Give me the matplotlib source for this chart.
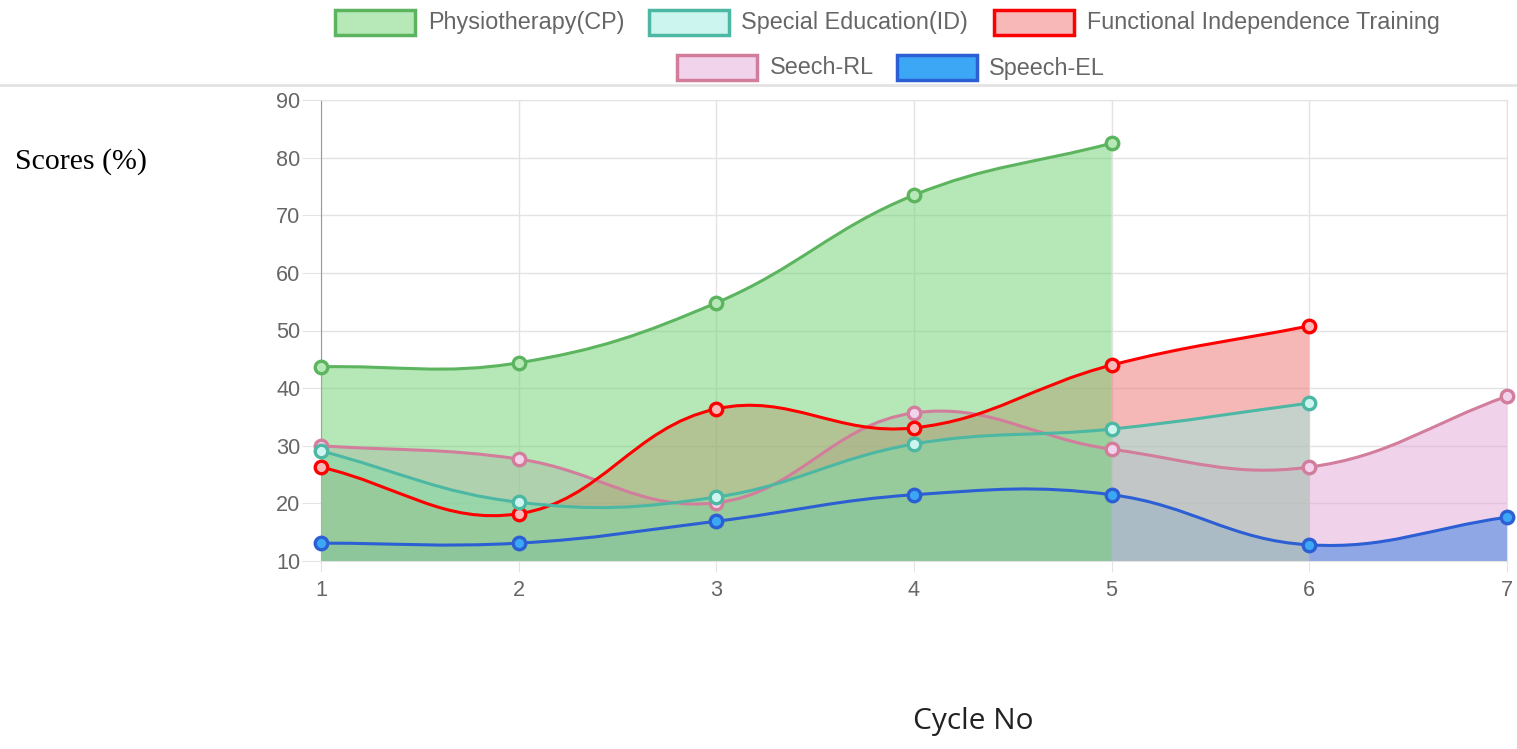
import numpy as np
import matplotlib

matplotlib.use("Agg")
import matplotlib.pyplot as plt
from matplotlib.path import Path
from matplotlib.patches import PathPatch, Rectangle
from matplotlib.lines import Line2D
from matplotlib import font_manager

# ---- data ----------------------------------------------------------------- #
cycles = [1, 2, 3, 4, 5, 6, 7]
physio = [43.7, 44.4, 54.8, 73.5, 82.5]
special_ed = [29.1, 20.2, 21.1, 30.3, 32.9, 37.4]
fit = [26.3, 18.2, 36.4, 33.1, 44.0, 50.8]
speech_rl = [30.0, 27.7, 20.1, 35.7, 29.4, 26.3, 38.6]
speech_el = [13.1, 13.1, 16.9, 21.5, 21.5, 12.8, 17.6]

labels = ["Physiotherapy(CP)", "Special Education(ID)",
          "Functional Independence Training", "Seech-RL", "Speech-EL"]
series = [physio, special_ed, fit, speech_rl, speech_el]
line_colors = ["#5cb55e", "#4cb8a4", "#ff0000", "#d27d9c", "#2b5fd3"]
fill_colors = ["#6fd171", "#99ebdf", "#ef7171", "#e5a7d9", "#3ca8f5"]
fill_alpha = [0.5, 0.5, 0.5, 0.5, 1.0]
legend_face = ["#b7e8b8", "#ccf5ef", "#f8b8b8", "#f2d3ec", "#3ca8f5"]

W, H = 1517, 749
YMIN, YMAX = 10, 90
TENSION = 0.4
PX_X = 197.7   # px per x unit
PX_Y = 5.76    # px per y unit

installed = {f.name for f in font_manager.fontManager.ttflist}
NARROW = "Liberation Sans Narrow" if "Liberation Sans Narrow" in installed else "Liberation Sans"
SCALE = 1.0 if NARROW == "Liberation Sans Narrow" else 0.82


def spline_path(xs, ys):
    """Chart.js style bezier (tension 0.4), computed in pixel space."""
    px = np.array(xs, float) * PX_X
    py = np.array(ys, float) * PX_Y
    n = len(px)
    cps = []
    for i in range(n):
        p0 = (px[max(i - 1, 0)], py[max(i - 1, 0)])
        p1 = (px[i], py[i])
        p2 = (px[min(i + 1, n - 1)], py[min(i + 1, n - 1)])
        d01 = np.hypot(p1[0] - p0[0], p1[1] - p0[1])
        d12 = np.hypot(p2[0] - p1[0], p2[1] - p1[1])
        tot = d01 + d12
        s01 = d01 / tot if tot else 0
        s12 = d12 / tot if tot else 0
        fa, fb = TENSION * s01, TENSION * s12
        prev_cp = (p1[0] - fa * (p2[0] - p0[0]), p1[1] - fa * (p2[1] - p0[1]))
        next_cp = (p1[0] + fb * (p2[0] - p0[0]), p1[1] + fb * (p2[1] - p0[1]))
        cps.append((prev_cp, next_cp))
    verts = [(px[0], py[0])]
    codes = [Path.MOVETO]
    for i in range(n - 1):
        verts += [cps[i][1], cps[i + 1][0], (px[i + 1], py[i + 1])]
        codes += [Path.CURVE4] * 3
    verts = [(vx / PX_X, min(max(vy / PX_Y, YMIN), YMAX)) for vx, vy in verts]
    return verts, codes


fig = plt.figure(figsize=(W / 100, H / 100), dpi=100)
ax = fig.add_axes([321 / W, 1 - 561 / H, (1507 - 321) / W, (561 - 100) / H])
ax.set_xlim(1, 7)
ax.set_ylim(YMIN, YMAX)

# Chart.js draws the first dataset on top -> draw in reverse order
for k in reversed(range(len(series))):
    ys = series[k]
    xs = cycles[:len(ys)]
    verts, codes = spline_path(xs, ys)
    fverts = verts + [(xs[-1], YMIN), (xs[0], YMIN), verts[0]]
    fcodes = codes + [Path.LINETO, Path.LINETO, Path.CLOSEPOLY]
    ax.add_patch(PathPatch(Path(fverts, fcodes), facecolor=fill_colors[k],
                           alpha=fill_alpha[k], edgecolor="none", zorder=2 + (4 - k)))

for k in reversed(range(len(series))):
    ys = series[k]
    xs = cycles[:len(ys)]
    verts, codes = spline_path(xs, ys)
    z = 10 + 2 * (4 - k)
    ax.add_patch(PathPatch(Path(verts, codes), facecolor="none",
                           edgecolor=line_colors[k], lw=2.2, zorder=z))
    ax.plot(xs, ys, "o", ms=9, mfc=legend_face[k], mec=line_colors[k],
            mew=2.4, zorder=z + 1, clip_on=False)

ax.set_xticks(cycles)
ax.set_yticks(range(10, 91, 10))
ax.grid(True, color="#e3e3e3", lw=1)
ax.set_axisbelow(True)
ax.tick_params(axis="both", color="#e3e3e3", labelsize=19 * SCALE,
               labelcolor="#666666")
ax.tick_params(axis="y", length=14, pad=1)
ax.tick_params(axis="x", length=8, pad=6)
for lab in ax.get_xticklabels() + ax.get_yticklabels():
    lab.set_family(NARROW)
for side in ["top", "right", "bottom"]:
    ax.spines[side].set_color("#e3e3e3")
ax.spines["left"].set_color("#9a9a9a")

# ---- legend, drawn by hand to match the two centered rows ---------------- #
legend_pos = [(335, 10, 428), (649, 10, 741), (994, 10, 1087),
              (677, 55, 770), (897, 55, 989)]
for k, (bx, by, tx) in enumerate(legend_pos):
    fig.add_artist(Rectangle((bx / W, 1 - (by + 25) / H), 80 / W, 25 / H,
                             transform=fig.transFigure, facecolor=legend_face[k],
                             edgecolor=line_colors[k], lw=2.5))
    fig.text(tx / W, 1 - (by + 13) / H, labels[k], ha="left", va="center",
             fontsize=20.5 * SCALE, color="#666666", family=NARROW)

fig.add_artist(Line2D([0, 1], [1 - 85 / H, 1 - 85 / H], transform=fig.transFigure,
                      color="#e3e3e3", lw=2))

fig.text(15 / W, 1 - 162 / H, "Scores (%)", ha="left", va="center",
         fontsize=21.5, family="Liberation Serif", color="black")
fig.text(973 / W, 1 - 722 / H, "Cycle No", ha="center", va="center",
         fontsize=21.5, family="Open Sans", color="#222222")

fig.savefig("out.png", dpi=100)
